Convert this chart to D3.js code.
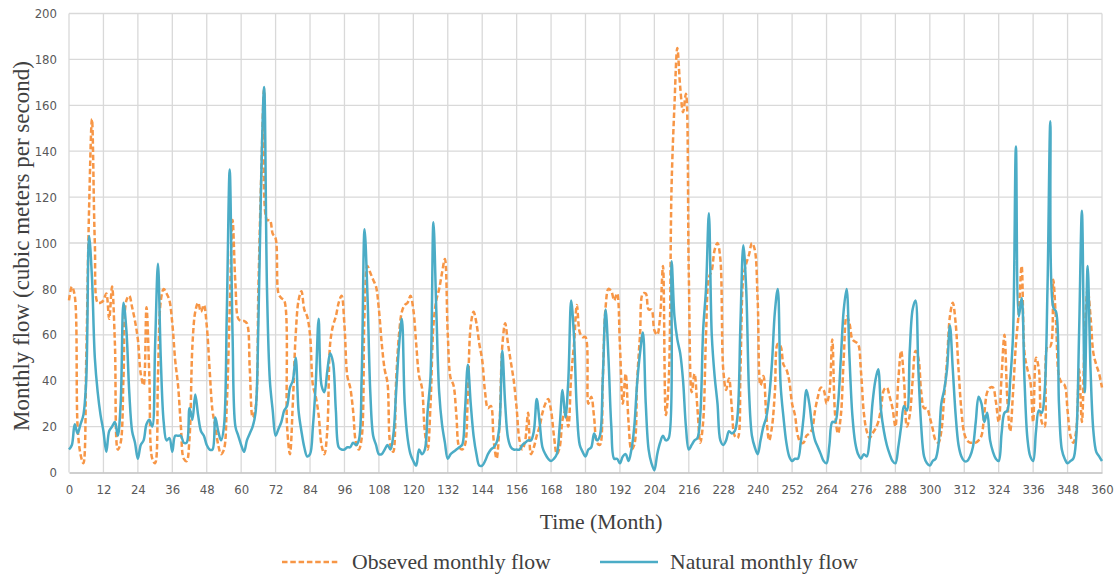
<!DOCTYPE html>
<html><head><meta charset="utf-8">
<script src="https://cdn.jsdelivr.net/npm/d3@7"></script>
<style>body{margin:0;background:#fff}</style>
</head><body><svg id="c" width="1117" height="577"></svg>
<script>
// Observed monthly flow, months 0..360
const observed = [
75,81,77,20,8,4,49,115,154,100,74,74,
75,78,67,81,56,10,13,42,75,77,72,66,
58,43,38,72,42,6,4,42,75,80,78,75,
65,49,38,20,6,5,15,55,70,74,70,73,
64,45,27,20,12,8,10,30,71,110,82,67,
66,66,65,45,24,28,80,130,167,110,110,104,
102,78,76,75,20,8,30,60,75,79,71,68,
60,38,33,25,12,8,18,56,64,68,74,77,
64,42,37,27,13,10,15,70,90,87,84,81,
71,56,45,39,12,9,40,60,70,73,74,77,
71,56,42,37,18,10,30,64,75,80,87,93,
60,41,38,25,11,10,12,35,64,70,65,56,
49,35,28,29,14,6,20,55,65,56,48,40,
28,14,10,14,26,8,11,16,20,26,30,32,
27,16,8,11,23,27,20,42,56,73,61,59,
59,30,33,24,13,12,40,72,80,79,75,78,
55,30,43,22,10,12,40,60,78,78,71,71,
62,60,68,90,25,40,125,160,185,168,157,165,
86,35,43,28,13,22,60,85,88,97,100,93,
45,36,41,28,16,15,45,85,91,95,100,97,
75,38,42,25,14,20,35,56,55,47,45,40,
30,25,16,13,13,16,17,19,27,33,37,36,
30,35,58,25,17,25,50,68,65,58,57,56,
44,26,18,15,17,19,22,28,36,37,33,28,
20,40,53,40,20,25,40,53,50,35,28,28,
24,19,14,13,18,33,49,68,74,65,45,27,
17,14,13,13,13,14,16,26,35,37,37,31,
22,42,60,32,18,35,56,70,90,52,45,40,
22,50,45,22,20,55,55,84,65,42,39,38,
27,16,13,18,45,22,60,80,68,52,47,43,
37];
// Natural monthly flow, months 0..360
const natural = [
10,12,21,17,21,25,40,103,85,50,35,25,
18,9,18,20,22,16,30,74,62,35,18,13,
6,12,14,21,23,20,55,91,49,22,14,15,
9,16,16,16,13,13,28,23,34,25,18,16,
12,10,10,24,18,14,20,70,132,60,20,16,
12,9,14,17,20,26,65,129,168,80,40,27,
16,19,22,27,29,37,40,50,27,18,11,7,
8,20,39,67,38,35,44,52,48,27,11,10,
10,11,11,13,12,14,42,106,78,35,16,12,
8,8,10,12,10,16,35,55,67,30,15,8,
5,3,10,8,10,27,42,109,71,35,21,13,
6,8,9,10,11,12,27,47,30,16,8,3,
3,5,8,10,11,13,20,53,30,15,11,10,
10,10,12,13,14,14,18,32,22,11,8,6,
5,6,8,20,36,24,40,75,59,27,12,9,
7,10,11,17,14,16,40,71,50,20,6,6,
4,7,8,5,10,20,39,52,61,30,10,4,
1,8,13,16,14,15,92,68,58,52,40,20,
10,12,14,15,25,62,80,113,60,42,30,14,
12,14,18,17,18,25,65,99,80,35,16,11,
8,14,20,24,33,48,70,80,38,24,13,7,
5,6,6,13,24,36,30,20,14,11,8,5,
4,12,22,22,30,50,71,80,50,25,13,8,
6,8,7,14,30,40,45,27,18,12,8,5,
4,11,20,29,27,53,71,75,45,20,7,4,
3,5,6,12,30,36,45,64,45,25,12,7,
5,5,7,11,22,33,30,22,26,14,9,6,
5,17,26,27,40,60,142,68,76,40,15,7,
5,18,27,26,35,80,153,72,70,30,10,6,
4,5,6,15,60,114,35,90,45,18,9,7,
5];
const xTicks = [0,12,24,36,48,60,72,84,96,108,120,132,144,156,168,180,192,204,216,228,240,252,264,276,288,300,312,324,336,348,360];
const yTicks = [0,20,40,60,80,100,120,140,160,180,200];
const seriesNames = ["Obseved monthly flow","Natural monthly flow"];
const seriesColors = ["#F79646","#4BACC6"];
const xTitle = "Time (Month)";
const yTitle = "Monthly flow (cubic meters per second)";

const svg = d3.select("#c");
const L = 69, R = 1102, T = 13.5, B = 472.5;
const x = d3.scaleLinear().domain([0,360]).range([L,R]);
const y = d3.scaleLinear().domain([0,200]).range([B,T]);
const serif = "'Liberation Serif','Times New Roman',serif";
const narrow = "'Liberation Sans Narrow','Arial Narrow','DejaVu Sans Condensed',sans-serif";

// gridlines
const g = svg.append("g");
g.selectAll("line.h").data(yTicks.filter(d=>d>0)).join("line").attr("class","h")
  .attr("x1",L).attr("x2",R).attr("y1",d=>y(d)).attr("y2",d=>y(d))
  .attr("stroke","#d9d9d9").attr("stroke-width",1.3);
g.selectAll("line.v").data(xTicks).join("line").attr("class","v")
  .attr("x1",d=>x(d)).attr("x2",d=>x(d)).attr("y1",T).attr("y2",B)
  .attr("stroke","#d9d9d9").attr("stroke-width",1.3);

// axes
const xAxis = svg.append("g").attr("transform",`translate(0,${B})`)
  .call(d3.axisBottom(x).tickValues(xTicks).tickSize(0).tickPadding(12));
xAxis.select(".domain").attr("stroke","#bfbfbf").attr("stroke-width",1.5);
xAxis.selectAll("text").attr("font-family",narrow).attr("font-size",13).attr("fill","#595959");

const yAxis = svg.append("g").attr("transform",`translate(${L},0)`)
  .call(d3.axisLeft(y).tickValues(yTicks).tickSize(0).tickPadding(12));
yAxis.select(".domain").remove();
yAxis.selectAll("text").attr("font-family",narrow).attr("font-size",13).attr("fill","#595959");

// lines
const line = d3.line().x((d,i)=>x(i)).y(d=>y(d)).curve(d3.curveCatmullRom.alpha(0.5));
svg.append("path").datum(observed).attr("d",line).attr("fill","none")
  .attr("stroke",seriesColors[0]).attr("stroke-width",2.5).attr("stroke-dasharray","5.5,2.8");
svg.append("path").datum(natural).attr("d",line).attr("fill","none")
  .attr("stroke",seriesColors[1]).attr("stroke-width",2.5);

// titles
svg.append("text").attr("x",601).attr("y",529).attr("text-anchor","middle")
  .attr("font-family",serif).attr("font-size",21.7).attr("fill","#404040").text(xTitle);
svg.append("text").attr("transform",`translate(29,246) rotate(-90)`).attr("text-anchor","middle")
  .attr("font-family",serif).attr("font-size",23).attr("fill","#404040").text(yTitle);

// legend
const leg = [{x0:282, tx:352},{x0:600, tx:670}];
leg.forEach((p,i)=>{
  svg.append("line").attr("x1",p.x0).attr("x2",p.x0+58).attr("y1",562).attr("y2",562)
    .attr("stroke",seriesColors[i]).attr("stroke-width",2.5)
    .attr("stroke-dasharray", i===0 ? "5.5,2.8" : null);
  svg.append("text").attr("x",p.tx).attr("y",569).attr("font-family",serif)
    .attr("font-size",21.7).attr("fill","#404040").text(seriesNames[i]);
});
</script></body></html>
